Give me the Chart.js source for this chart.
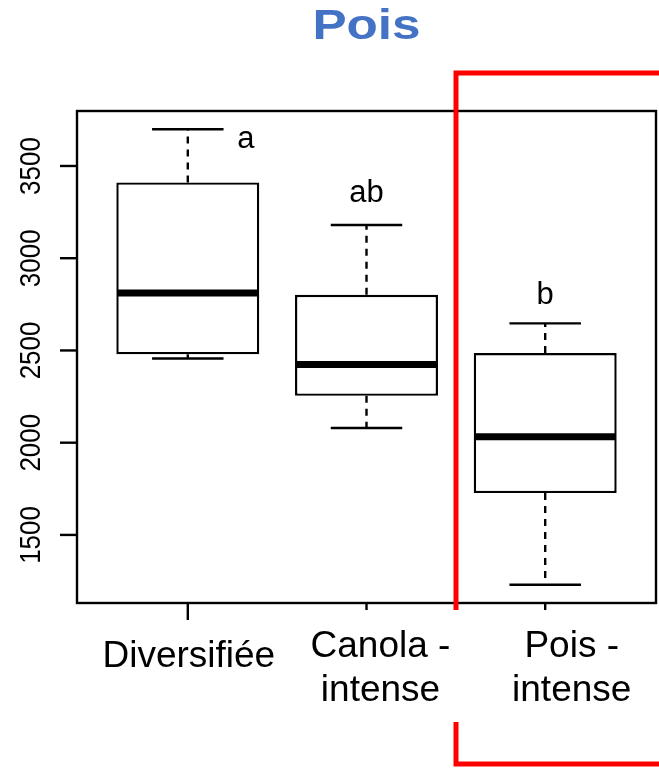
<!DOCTYPE html>
<html>
<head>
<meta charset="utf-8">
<script src="https://cdn.jsdelivr.net/npm/chart.js@4"></script>
<style>
  html, body { margin: 0; padding: 0; background: #fff; }
  #wrap { width: 659px; height: 768px; position: relative; }
</style>
</head>
<body>
<div id="wrap"><canvas id="c" width="659" height="768"></canvas></div>
<script>
// ---- data ----
const categories = ['Diversifiée', 'Canola - intense', 'Pois - intense'];
const categoryLines = [['Diversifiée'], ['Canola -', 'intense'], ['Pois -', 'intense']];
const whiskerLow  = [2456, 2080, 1230];
const q1          = [2479, 2254, 1727];
const median      = [2811, 2424, 2032];
const q3          = [3411, 2802, 2486];
const whiskerHigh = [3699, 3180, 2647];
const letters     = ['a', 'ab', 'b'];
const yTicks      = [1500, 2000, 2500, 3000, 3500];
const titleText   = 'Pois';

const boxData = categories.map((c, i) => ({ x: i + 1, y: [q1[i], q3[i]] }));
const xPositions = categories.map((c, i) => i + 1);

const FONT = '"Liberation Sans", Arial, Helvetica, sans-serif';

const boxPlugin = {
  id: 'boxPlugin',
  afterDatasetsDraw(chart) {
    const ctx = chart.ctx;
    const xs = chart.scales.x, ys = chart.scales.y;
    const area = chart.chartArea;
    const meta = chart.getDatasetMeta(0);
    ctx.save();
    ctx.strokeStyle = '#000';
    ctx.fillStyle = '#000';

    categories.forEach((c, i) => {
      const bar = meta.data[i];
      const cx = bar.x;
      const half = bar.width / 2;
      const capHalf = half / 2;
      const yLo = ys.getPixelForValue(whiskerLow[i]);
      const yQ1 = ys.getPixelForValue(q1[i]);
      const yMed = ys.getPixelForValue(median[i]);
      const yQ3 = ys.getPixelForValue(q3[i]);
      const yHi = ys.getPixelForValue(whiskerHigh[i]);

      // dashed whiskers
      ctx.lineWidth = 2.4;
      ctx.setLineDash([7, 6]);
      ctx.beginPath();
      ctx.moveTo(cx, yQ3); ctx.lineTo(cx, yHi);
      ctx.moveTo(cx, yQ1); ctx.lineTo(cx, yLo);
      ctx.stroke();
      ctx.setLineDash([]);
      // caps
      ctx.beginPath();
      ctx.moveTo(cx - capHalf, yHi); ctx.lineTo(cx + capHalf, yHi);
      ctx.moveTo(cx - capHalf, yLo); ctx.lineTo(cx + capHalf, yLo);
      ctx.stroke();
      // median
      ctx.lineWidth = 7;
      ctx.beginPath();
      ctx.moveTo(cx - half + 1, yMed); ctx.lineTo(cx + half - 1, yMed);
      ctx.stroke();
    });

    // plot border
    ctx.lineWidth = 2.4;
    ctx.strokeRect(area.left, area.top, area.right - area.left, area.bottom - area.top);

    // y axis ticks + rotated labels
    yTicks.forEach(v => {
      const py = ys.getPixelForValue(v);
      ctx.beginPath();
      ctx.moveTo(area.left - 17, py); ctx.lineTo(area.left, py);
      ctx.stroke();
      ctx.save();
      ctx.translate(40, py);
      ctx.rotate(-Math.PI / 2);
      ctx.scale(1, 1.16);
      ctx.font = '26px ' + FONT;
      ctx.textAlign = 'center';
      ctx.textBaseline = 'alphabetic';
      ctx.fillText(String(v), 0, 0);
      ctx.restore();
    });

    // x axis ticks
    const tickLen = [17, 7, 7];
    categories.forEach((c, i) => {
      const px = xs.getPixelForValue(i + 1);
      ctx.beginPath();
      ctx.moveTo(px, area.bottom); ctx.lineTo(px, area.bottom + tickLen[i]);
      ctx.stroke();
    });

    // category labels
    ctx.font = '37px ' + FONT;
    ctx.textAlign = 'center';
    ctx.textBaseline = 'alphabetic';
    const labelDx = [1, 14, 26.5];
    categories.forEach((c, i) => {
      const px = xs.getPixelForValue(i + 1) + labelDx[i];
      const lines = categoryLines[i];
      if (lines.length === 1) {
        ctx.fillText(lines[0], px, 667);
      } else {
        ctx.fillText(lines[0], px, 657);
        ctx.fillText(lines[1], px, 701);
      }
    });

    // significance letters
    ctx.font = '31px ' + FONT;
    const letterDx = [58, 0, 0];
    const letterDy = [18.5, -23, -19];
    letters.forEach((l, i) => {
      const px = xs.getPixelForValue(i + 1) + letterDx[i];
      const py = ys.getPixelForValue(whiskerHigh[i]) + letterDy[i];
      ctx.fillText(l, px, py);
    });

    // title
    ctx.save();
    ctx.translate((area.left + area.right) / 2, 39);
    ctx.scale(1.22, 1);
    ctx.font = 'bold 42px ' + FONT;
    ctx.fillStyle = '#4472C4';
    ctx.textAlign = 'center';
    ctx.fillText(titleText, 0, 0);
    ctx.restore();

    // red highlight frame
    ctx.strokeStyle = '#FF0000';
    ctx.lineWidth = 5;
    ctx.beginPath();
    ctx.moveTo(700, 73); ctx.lineTo(456, 73); ctx.lineTo(456, 610);
    ctx.moveTo(456, 722); ctx.lineTo(456, 764); ctx.lineTo(700, 764);
    ctx.stroke();

    ctx.restore();
  }
};

new Chart(document.getElementById('c'), {
  type: 'bar',
  data: {
    datasets: [{
      data: boxData,
      backgroundColor: '#ffffff',
      borderColor: '#000000',
      borderWidth: 2.4,
      borderSkipped: false,
      categoryPercentage: 0.8,
      barPercentage: 1.0
    }]
  },
  options: {
    responsive: false,
    animation: false,
    events: [],
    layout: { padding: { left: 77, right: 3, top: 111, bottom: 165 } },
    plugins: { legend: { display: false }, tooltip: { enabled: false }, title: { display: false } },
    scales: {
      x: {
        type: 'linear', min: 0.38, max: 3.62, offset: false, display: false,
        afterBuildTicks: (scale) => { scale.ticks = xPositions.map(v => ({ value: v })); }
      },
      y: { type: 'linear', min: 1131, max: 3798, display: false }
    }
  },
  plugins: [boxPlugin]
});
</script>
</body>
</html>
